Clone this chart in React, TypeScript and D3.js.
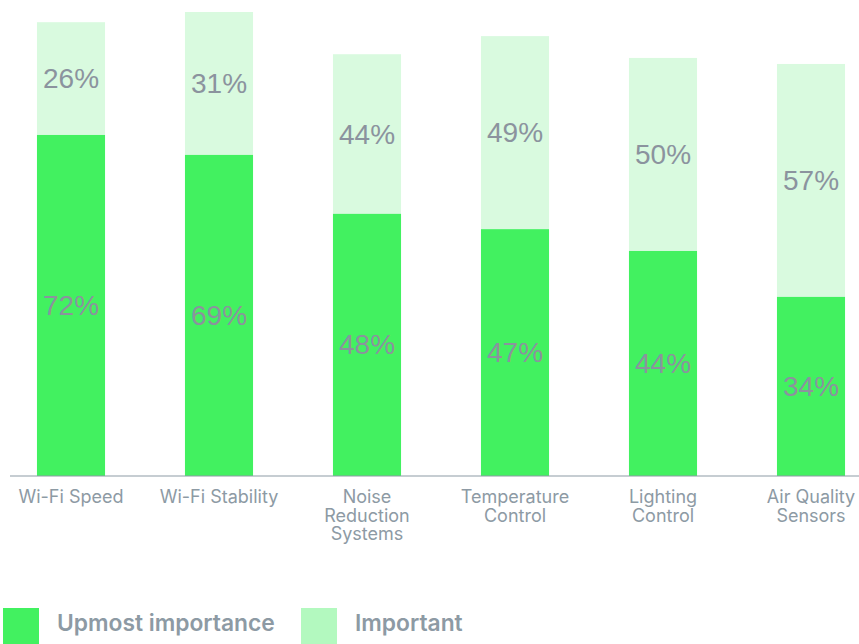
import * as d3 from 'd3';

// categories (line breaks as in the reference)
const categories = [
  ['Wi-Fi Speed'],
  ['Wi-Fi Stability'],
  ['Noise', 'Reduction', 'Systems'],
  ['Temperature', 'Control'],
  ['Lighting', 'Control'],
  ['Air Quality', 'Sensors'],
];

// printed labels
const upmostLabel = [72, 69, 48, 47, 44, 34];
const importantLabel = [26, 31, 44, 49, 50, 57];

// segment heights as drawn in the reference (0-100 scale, they don't follow the labels exactly)
const upmostHeight = [73.5, 69.2, 56.5, 53.2, 48.5, 38.6];
const importantHeight = [24.3, 30.8, 34.4, 41.6, 41.6, 50.2];

const seriesNames = ['Upmost importance', 'Important'];

const W = 859;
const H = 644;
const baseY = 476;

const DARK = '#42f160';
const LIGHT = '#d9fadf';
const LEGEND_LIGHT = '#b3f9bf';
const LABEL = '#8b939e';
const AXIS_TEXT = '#8d9aa4';

export default function App() {
  const keys = categories.map(c => c.join(' '));

  const x = d3.scaleBand<string>()
    .domain(keys)
    .range([-3, 885])
    .paddingInner(0.54)
    .paddingOuter(0.27);

  const y = d3.scaleLinear().domain([0, 100]).range([baseY, 12]);

  return (
    <div style={{ position: 'absolute', left: 0, top: 0 }}>
      <svg width={W} height={H} style={{ display: 'block' }}>
        {keys.map((k, i) => {
          const x0 = x(k)!;
          const bw = x.bandwidth();
          const cx = x0 + bw / 2;
          const darkTop = y(upmostHeight[i]);
          const lightTop = y(upmostHeight[i] + importantHeight[i]);
          return (
            <g key={k}>
              <rect x={x0} y={lightTop} width={bw} height={darkTop - lightTop} fill={LIGHT} />
              <rect x={x0} y={darkTop} width={bw} height={baseY - darkTop} fill={DARK} />
              <text x={cx} y={(lightTop + darkTop) / 2} textAnchor="middle" dominantBaseline="central"
                fontFamily="'Liberation Sans', Arial, sans-serif" fontSize={28} fill={LABEL}>
                {importantLabel[i]}%
              </text>
              <text x={cx} y={(darkTop + baseY) / 2} textAnchor="middle" dominantBaseline="central"
                fontFamily="'Liberation Sans', Arial, sans-serif" fontSize={28} fill={LABEL}>
                {upmostLabel[i]}%
              </text>
              <text x={cx} y={503} textAnchor="middle" fontFamily="Inter, sans-serif" fontSize={18} fill={AXIS_TEXT}>
                {categories[i].map((line, j) => (
                  <tspan key={j} x={cx} dy={j === 0 ? 0 : 18.5}>{line}</tspan>
                ))}
              </text>
            </g>
          );
        })}
        <line x1={10} x2={W} y1={baseY} y2={baseY} stroke="#8d9ba6" strokeWidth={1.2} />

        {/* legend */}
        <g>
          <rect x={3} y={608} width={36} height={36} fill={DARK} />
          <text x={57} y={631} fontFamily="Inter, sans-serif" fontSize={22.8} fontWeight={600} fill={AXIS_TEXT}>
            {seriesNames[0]}
          </text>
          <rect x={301} y={608} width={36} height={36} fill={LEGEND_LIGHT} />
          <text x={355} y={631} fontFamily="Inter, sans-serif" fontSize={22.8} fontWeight={600} fill={AXIS_TEXT}>
            {seriesNames[1]}
          </text>
        </g>
      </svg>
    </div>
  );
}
